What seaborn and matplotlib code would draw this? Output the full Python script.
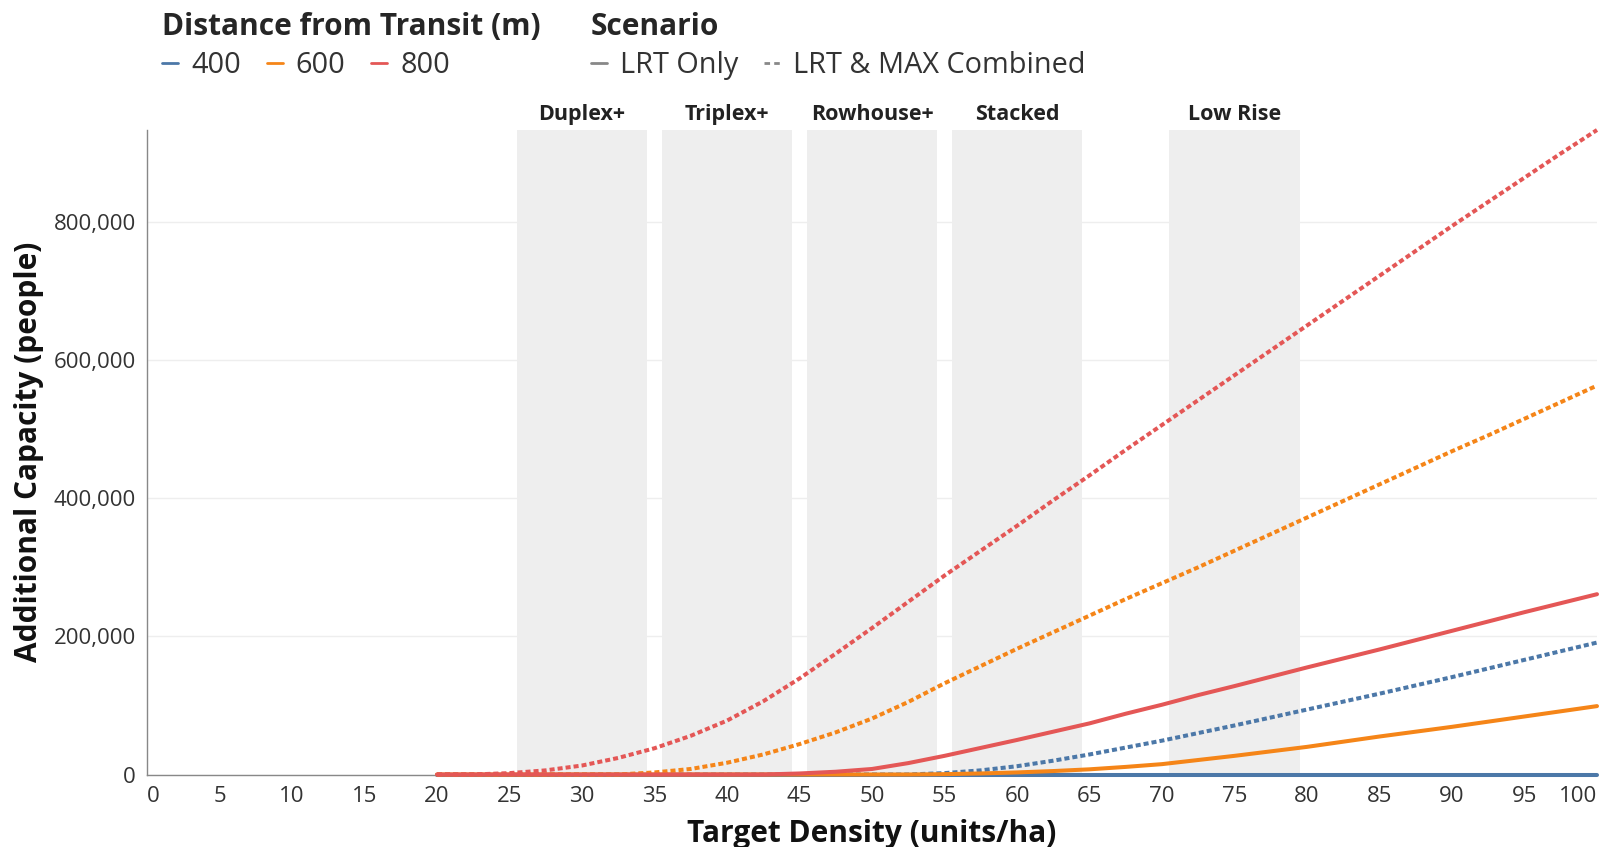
import numpy as np
import pandas as pd
import matplotlib
matplotlib.use("Agg")
import matplotlib.pyplot as plt
from matplotlib.lines import Line2D
import seaborn as sns

# ---------------- data ----------------
density = [20, 22.5, 25, 27.5, 30, 32.5, 35, 37.5, 40, 42.5, 45, 47.5, 50, 52.5, 55, 57.5,
           60, 62.5, 65, 67.5, 70, 72.5, 75, 77.5, 80, 82.5, 85, 87.5, 90, 92.5, 95, 97.5, 100]

lrt_400 = [0] * 33
lrt_600 = [0, 0, 0, 0, 0, 0, 0, 0, 0, 0, 0, 0, 0, 0, 500, 1500,
           3000, 5000, 7500, 11000, 15000, 21000, 27000, 33500, 40000, 47500, 55000, 62000,
           69000, 76500, 84000, 91500, 99000]
lrt_800 = [0, 0, 0, 0, 0, 0, 0, 0, 0, 0, 1500, 4000, 8000, 16500, 27000, 38500,
           50000, 62000, 74000, 88000, 101000, 115000, 128000, 141500, 155000, 168000, 181000, 194500,
           208000, 221500, 235000, 248000, 261000]

max_400 = [0, 0, 0, 0, 0, 0, 0, 0, 0, 0, 0, 0, 0, 0, 2000, 6000,
           12000, 20000, 29000, 39000, 49000, 60000, 71000, 82500, 94000, 105500, 117000, 129000,
           141000, 153500, 166000, 178500, 191000]
max_600 = [0, 0, 0, 0, 0, 0, 3000, 8000, 17000, 29000, 44000, 61000, 81000, 105000, 132000, 157000,
           182000, 206000, 230000, 254000, 277000, 300000, 324000, 348000, 372000, 396000, 420000, 444000,
           468000, 491000, 515000, 539000, 563000]
max_800 = [0, 0, 2000, 6000, 13000, 24000, 38000, 56000, 78000, 106000, 139000, 175000, 212000, 250000, 288000, 324000,
           360000, 397000, 433000, 470000, 506000, 542000, 578000, 614000, 650000, 686000, 722000, 758000,
           794000, 829000, 864000, 899000, 933000]

distances = ["400", "600", "800"]
scenarios = ["LRT Only", "LRT & MAX Combined"]

band_labels = ["Duplex+", "Triplex+", "Rowhouse+", "Stacked", "Low Rise"]
band_start = [25.5, 35.5, 45.5, 55.5, 70.5]
band_end = [34.5, 44.5, 54.5, 64.5, 79.5]

x_ticks = list(range(0, 101, 5))
y_ticks = [0, 200000, 400000, 600000, 800000]

series = {
    ("400", "LRT Only"): lrt_400,
    ("400", "LRT & MAX Combined"): max_400,
    ("600", "LRT Only"): lrt_600,
    ("600", "LRT & MAX Combined"): max_600,
    ("800", "LRT Only"): lrt_800,
    ("800", "LRT & MAX Combined"): max_800,
}
rows = []
for (d, s), vals in series.items():
    for x, v in zip(density, vals):
        rows.append({"density": x, "capacity": v, "distance": d, "scenario": s})
df = pd.DataFrame(rows)

# ---------------- style ----------------
sns.set_style("white")
FONT = ["Open Sans", "DejaVu Sans"]
plt.rcParams["font.family"] = FONT

palette = {"400": "#4c78a8", "600": "#f58518", "800": "#e45756"}
dash_map = {"LRT Only": "", "LRT & MAX Combined": (1.25, 0.75)}

fig = plt.figure(figsize=(16, 8.47), dpi=100)
ax = fig.add_axes([147 / 1600, 72.5 / 847, 1450 / 1600, 644.5 / 847])

# bands
for lab, x0, x1 in zip(band_labels, band_start, band_end):
    ax.axvspan(x0, x1, color="#eeeeee", zorder=1, lw=0)
    ax.text((x0 + x1) / 2, 1.0235, lab, transform=ax.get_xaxis_transform(),
            ha="center", va="center", fontsize=15.5, fontweight="bold", color="#222222")

sns.lineplot(data=df, x="density", y="capacity", hue="distance", style="scenario",
             hue_order=distances, style_order=scenarios, palette=palette,
             dashes=dash_map, linewidth=2.9, legend=False, ax=ax, zorder=3,
             clip_on=False, estimator=None, sort=True)

ax.set_xlim(0, 100)
ax.set_ylim(0, 933000)
ax.set_xticks(x_ticks)
ax.set_xticklabels([str(t) for t in x_ticks])
ax.set_yticks(y_ticks)
ax.set_yticklabels([f"{t:,}" for t in y_ticks])
xl = ax.get_xticklabels()
xl[0].set_horizontalalignment("left")
xl[-1].set_horizontalalignment("right")

ax.grid(axis="y", color="#eeeeee", linewidth=1)
ax.grid(axis="x", visible=False)
ax.set_axisbelow(True)
for side in ["top", "right"]:
    ax.spines[side].set_visible(False)
for side in ["left", "bottom"]:
    ax.spines[side].set_color("#888888")
    ax.spines[side].set_linewidth(1)

ax.tick_params(axis="both", which="major", direction="out", length=5, width=1,
               color="#888888", labelsize=16, labelcolor="#333333", pad=3)

ax.set_xlabel("Target Density (units/ha)", fontsize=21.5, fontweight="bold",
              color="#111111", labelpad=9)
ax.set_ylabel("Additional Capacity (people)", fontsize=21.5, fontweight="bold",
              color="#111111", labelpad=7)

# legends
h1 = [Line2D([0], [0], color=palette[d], lw=2) for d in distances]
h2 = [Line2D([0], [0], color="#888888", lw=2, linestyle="-"),
      Line2D([0], [0], color="#888888", lw=2, dashes=(2, 1.5))]

common = dict(frameon=False, ncol=3, fontsize=20.8, handlelength=0.55,
              handletextpad=0.45, columnspacing=0.9, borderpad=0, labelspacing=0.3,
              borderaxespad=0, title_fontproperties={"weight": "bold", "size": 21.5},
              loc="upper left", labelcolor="#333333")
leg1 = fig.legend(h1, distances, title="Distance from Transit (m)",
                  bbox_to_anchor=(162 / 1600, 1 - 12 / 847), **common)
leg1._legend_box.align = "left"
leg2 = fig.legend(h2, scenarios, title="Scenario",
                  bbox_to_anchor=(591 / 1600, 1 - 12 / 847), **common)
leg2._legend_box.align = "left"

fig.savefig("out.png", dpi=100)
